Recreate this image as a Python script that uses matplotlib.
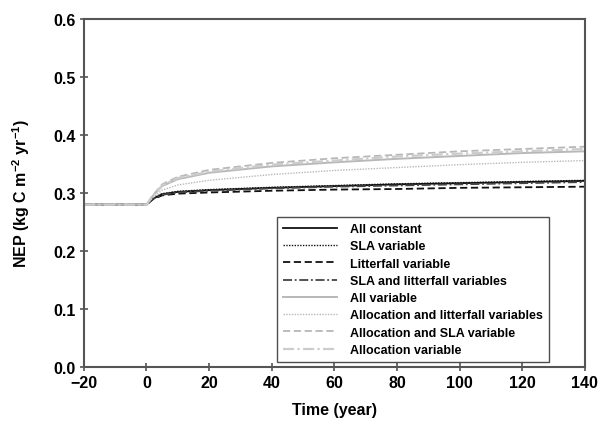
import matplotlib
matplotlib.use('Agg')
import matplotlib.pyplot as plt

plt.rcParams['font.family'] = ['Liberation Sans', 'DejaVu Sans']
plt.rcParams['font.weight'] = 'bold'
plt.rcParams['mathtext.fontset'] = 'custom'
plt.rcParams['mathtext.rm'] = 'Liberation Sans:bold'
plt.rcParams['mathtext.bf'] = 'Liberation Sans:bold'
plt.rcParams['mathtext.default'] = 'bf'

# Years and NEP values
years = [-20, 0, 2, 5, 10, 20, 40, 60, 80, 100, 120, 140]
all_constant = [0.28, 0.28, 0.290, 0.298, 0.302, 0.305, 0.309, 0.312, 0.315, 0.317, 0.319, 0.321]
sla_var = [0.28, 0.28, 0.291, 0.299, 0.303, 0.306, 0.310, 0.313, 0.316, 0.318, 0.320, 0.322]
litter_var = [0.28, 0.28, 0.289, 0.296, 0.299, 0.301, 0.304, 0.306, 0.307, 0.309, 0.310, 0.311]
sla_litter = [0.28, 0.28, 0.290, 0.297, 0.301, 0.304, 0.308, 0.311, 0.313, 0.315, 0.317, 0.319]
all_var = [0.28, 0.28, 0.295, 0.312, 0.324, 0.335, 0.346, 0.353, 0.359, 0.364, 0.369, 0.372]
alloc_litter = [0.28, 0.28, 0.292, 0.305, 0.314, 0.322, 0.332, 0.339, 0.344, 0.349, 0.353, 0.356]
alloc_sla = [0.28, 0.28, 0.296, 0.315, 0.328, 0.340, 0.352, 0.360, 0.366, 0.372, 0.376, 0.380]
alloc_var = [0.28, 0.28, 0.295, 0.313, 0.326, 0.337, 0.349, 0.356, 0.363, 0.368, 0.372, 0.376]

fig = plt.figure(figsize=(6.03, 4.27), dpi=100)
ax = fig.add_axes([0.139, 0.138, 0.831, 0.815])

blk = '#111111'
gry = '#b8b8b8'
ax.plot(years, all_constant, color=blk, lw=1.3, ls='-', label='All constant')
ax.plot(years, sla_var, color=blk, lw=1.0, ls=(0, (1, 1)), label='SLA variable')
ax.plot(years, litter_var, color=blk, lw=1.3, ls=(0, (4, 2)), label='Litterfall variable')
ax.plot(years, sla_litter, color='#444444', lw=1.3, ls=(0, (5, 1.5, 1, 1.5)), label='SLA and litterfall variables')
ax.plot(years, all_var, color=gry, lw=1.4, ls='-', label='All variable')
ax.plot(years, alloc_litter, color=gry, lw=1.0, ls=(0, (1, 1)), label='Allocation and litterfall variables')
ax.plot(years, alloc_sla, color=gry, lw=1.3, ls=(0, (4, 2)), label='Allocation and SLA variable')
ax.plot(years, alloc_var, color='#cccccc', lw=1.6, ls=(0, (5, 1.5, 1, 1.5)), label='Allocation variable')

ax.set_xlim(-20, 140)
ax.set_ylim(0, 0.6)
ax.set_xticks(range(-20, 141, 20))
ax.set_yticks([0.0, 0.1, 0.2, 0.3, 0.4, 0.5, 0.6])
ax.set_yticklabels(['0.0', '0.1', '0.2', '0.3', '0.4', '0.5', '0.6'])
for s in ax.spines.values():
    s.set_color('#555555')
    s.set_linewidth(1.5)
ax.tick_params(direction='inout', length=6, width=1.2, color='#555555', labelsize=11.5, pad=3)

ax.set_xlabel('Time (year)', fontsize=11.5, fontweight='bold', labelpad=8)
ax.set_ylabel(r'NEP (kg C m$^{-2}$ yr$^{-1}$)', fontsize=11.5, fontweight='bold', labelpad=15)

leg = ax.legend(loc='lower right', bbox_to_anchor=(0.928, 0.014), fontsize=9, frameon=True,
                fancybox=False, edgecolor='#222222', handlelength=4.3, handletextpad=1.0,
                labelspacing=0.42, borderpad=0.5, borderaxespad=0)
leg.get_frame().set_linewidth(1.0)

fig.savefig('out.png', dpi=100)
